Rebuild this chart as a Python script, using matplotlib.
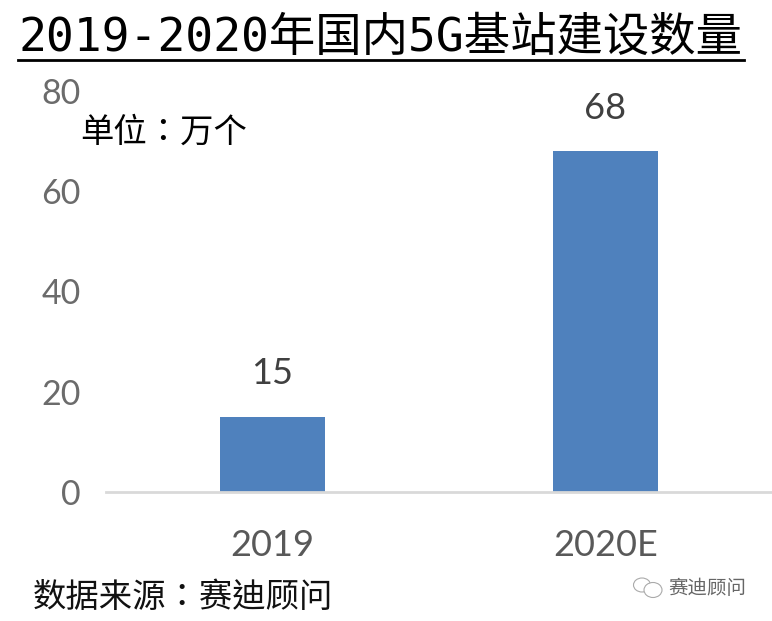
import matplotlib.pyplot as plt
from matplotlib.patches import Ellipse

plt.rcParams['font.family'] = ['Noto Sans CJK SC', 'DejaVu Sans']

categories = ['2019', '2020E']
values = [15, 68]
y_ticks = [0, 20, 40, 60, 80]

title = '2019-2020年国内5G基站建设数量'
unit_text = '单位：万个'
source_text = '数据来源：赛迪顾问'
logo_text = '赛迪顾问'

W, H = 772, 621
num_font = ['Lato', 'DejaVu Sans']
# TC font centres the full width colon, as in the reference
note_font = ['Noto Sans CJK TC', 'DejaVu Sans']

fig = plt.figure(figsize=(W / 100, H / 100), dpi=100)
ax = fig.add_axes([106 / W, 1 - 492 / H, (772 - 106) / W, 401 / H])

ax.bar(categories, values, width=0.314, color='#4f81bd', zorder=2)
ax.set_xlim(-0.5, 1.5)
ax.set_ylim(0, 80)
ax.set_yticks(y_ticks)

for x, v in enumerate(values):
    ax.annotate(str(v), (x, v), xytext=(0, 19), textcoords='offset points',
                ha='center', va='bottom', fontsize=26, color='#404040',
                family=num_font)

for s in ['top', 'right', 'left']:
    ax.spines[s].set_visible(False)
ax.spines['bottom'].set_color('#d9d9d9')
ax.spines['bottom'].set_linewidth(2)
ax.tick_params(length=0)
ax.tick_params(axis='y', labelsize=24.5, labelcolor='#6b6b6b', pad=18)
ax.tick_params(axis='x', labelsize=26, labelcolor='#595959', pad=27)
for lab in ax.get_xticklabels() + ax.get_yticklabels():
    lab.set_family(num_font)

fig.text(381 / W, 1 - 38 / H, title, ha='center', va='center', fontsize=33.4,
         color='black', family=['DejaVu Sans Mono', 'Noto Sans CJK SC'])
fig.add_artist(plt.Line2D([18 / W, 744 / W], [1 - 60 / H, 1 - 60 / H], color='black', lw=2))
fig.text(80 / W, 1 - 132 / H, unit_text, ha='left', va='center', fontsize=24,
         color='black', family=note_font)
fig.text(33 / W, 1 - 597 / H, source_text, ha='left', va='center', fontsize=24,
         color='#111111', family=note_font)
fig.text(668 / W, 1 - 588 / H, logo_text, ha='left', va='center', fontsize=14, color='#666666')

# wechat mark next to the logo text
for cx, cy, w, h in [(642, 585, 17, 14), (653, 590, 18, 15)]:
    fig.add_artist(Ellipse((cx / W, 1 - cy / H), w / W, h / H, transform=fig.transFigure,
                           facecolor='white', edgecolor='#aaaaaa', lw=0.8))

fig.savefig('out.png', dpi=100)
